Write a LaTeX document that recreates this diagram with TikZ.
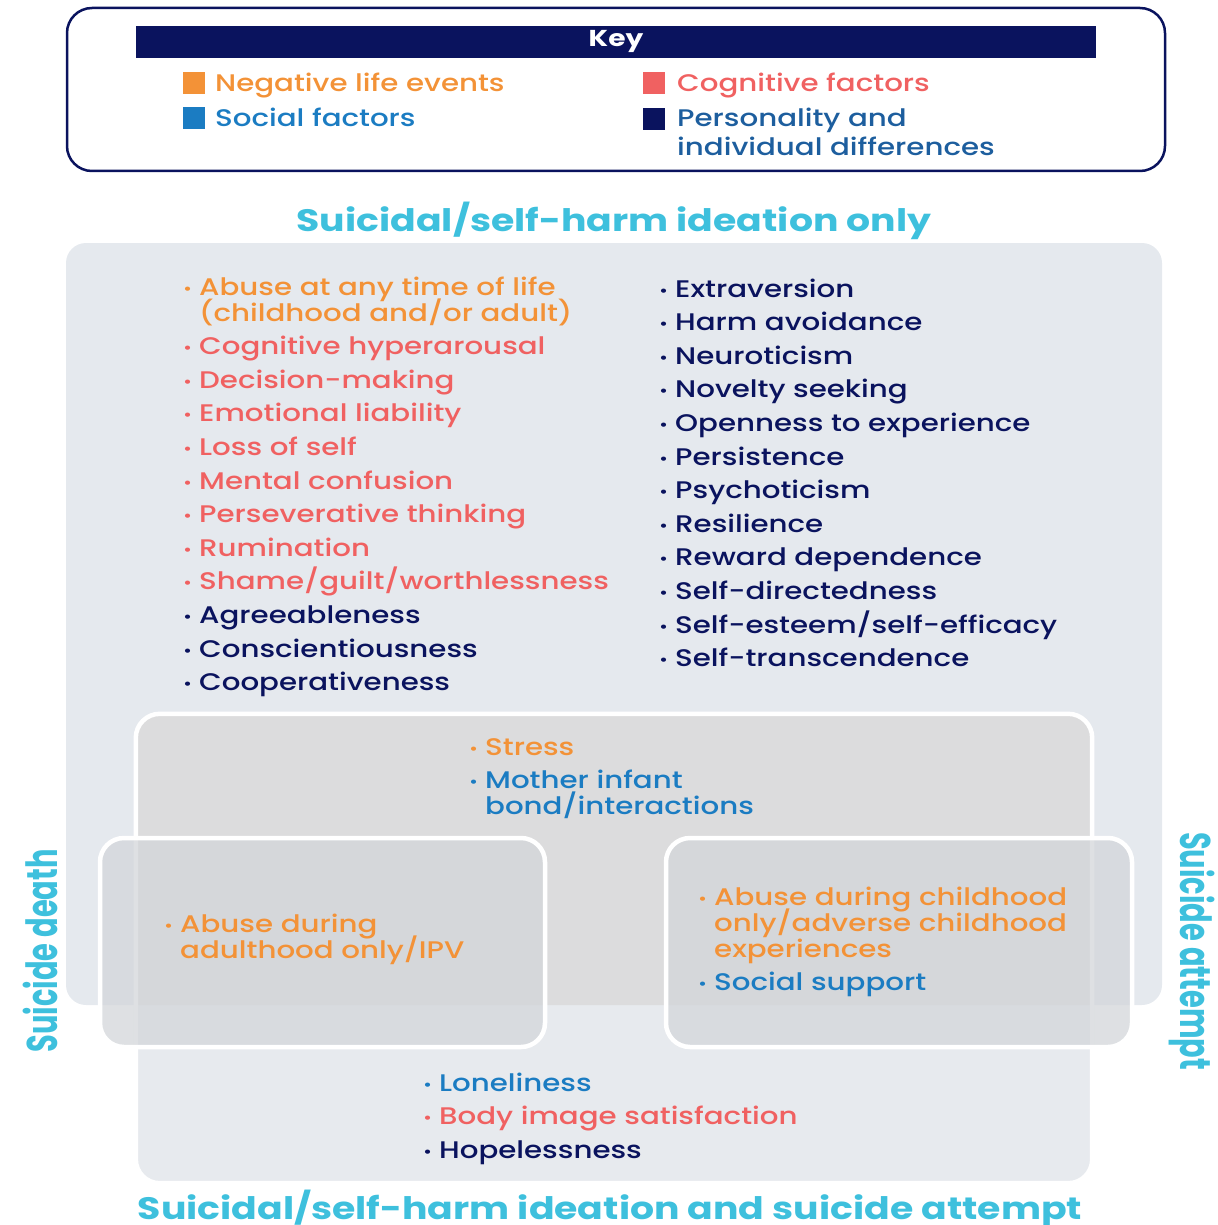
\documentclass[tikz,border=0pt]{standalone}
\usepackage{fontspec}
\setmainfont{Poppins}[UprightFont={* Medium}, BoldFont={* Bold}, FakeStretch=1.22]
\usetikzlibrary{positioning,calc}

\definecolor{keynavy}{HTML}{0A135E}
\definecolor{negorange}{HTML}{F39237}
\definecolor{cogred}{HTML}{F06161}
\definecolor{socblue}{HTML}{1B7CC2}
\definecolor{perblue}{HTML}{1D5E9E}
\definecolor{titlecyan}{HTML}{3EC0DD}
\definecolor{ideabg}{HTML}{E5E9EE}
\definecolor{pairbg}{HTML}{E7EAEE}
\definecolor{pairhi}{HTML}{DCDCDD}
\definecolor{onlybg}{HTML}{D3D6DA}

\newcommand{\dotmark}{\makebox[16pt][l]{\fontsize{16}{16}\selectfont\raisebox{1pt}{•}}}
\newcommand{\itm}[2]{\textcolor{#1}{\smash{\dotmark#2}}}
\newcommand{\cnt}[2]{\textcolor{#1}{\smash{\hspace*{16pt}#2}}}

\begin{document}
\begin{tikzpicture}[x=1pt, y=-1pt,
    key frame/.style={draw=keynavy, line width=2.5pt, rounded corners=25pt, minimum width=1098pt, minimum height=163pt},
    key bar/.style={fill=keynavy, text=white, minimum width=960pt, minimum height=32pt, inner sep=0pt, font=\bfseries\fontsize{23}{26}\selectfont},
    swatch/.style={minimum size=22pt, inner sep=0pt},
    key label/.style={anchor=base west, inner sep=0pt, font=\fontsize{24}{29}\selectfont},
    group box/.style={inner sep=0pt, rounded corners=24pt},
    only box/.style={group box, fill=onlybg, fill opacity=0.75, draw=white, draw opacity=1, line width=4.5pt, minimum height=209pt},
    factor list/.style={anchor=base west, inner sep=0pt, font=\fontsize{24}{26}\selectfont},
    group title/.style={text=titlecyan, inner sep=0pt, font=\bfseries\fontsize{31}{34}\selectfont},
    side title/.style={text=titlecyan, inner sep=0pt, font=\bfseries\fontsize{43}{46}\selectfont}]
    \useasboundingbox (0,0) rectangle (1217,1225);

    % key
    \node[key frame] (key) at (616,89.5) {};
    \node[key bar, below=19pt of key.north] (keybar) {Key};
    \node[swatch, fill=negorange] (negsw) at (194,83.5) {};
    \node[swatch, fill=socblue] (socsw) at (194,118.5) {};
    \node[swatch, fill=cogred] (cogsw) at (653.5,83.5) {};
    \node[swatch, fill=keynavy] (persw) at (653.5,119) {};
    \node[key label, text=negorange] (negtxt) at (215,92) {Negative life events};
    \node[key label, text=socblue] (soctxt) at (215,127) {Social factors};
    \node[key label, text=cogred] (cogtxt) at (677,92) {Cognitive factors};
    \node[key label, text=perblue] (pertxt) at (677,127) {\begin{tabular}[t]{@{}l@{}}Personality and\\ individual differences\end{tabular}};

    % group boxes
    \node[group box, fill=ideabg, rounded corners=20pt, minimum width=1096pt, minimum height=762pt] (ideation) at (614,624) {};
    \node[group box, fill=pairbg, minimum width=956pt, minimum height=469pt] (pair) at (614,948.5) {};
    \begin{scope}
        \clip[rounded corners=20pt] (ideation.south west) rectangle (ideation.north east);
        \fill[pairhi, rounded corners=24pt] (pair.south west) rectangle (pair.north east);
    \end{scope}
    \draw[white, line width=4.5pt, rounded corners=24pt] (pair.south west) rectangle (pair.north east);
    \node[only box, minimum width=445pt] (death) at (322.5,942.5) {};
    \node[only box, minimum width=466pt] (attempt) at (899,942.5) {};

    % titles
    \node[group title, anchor=base] (ideatitle) at (614,231) {Suicidal/self-harm ideation only};
    \node[group title, anchor=base] (pairtitle) at (610,1219) {Suicidal/self-harm ideation and suicide attempt};
    \node[side title, rotate=90] (deathtitle) at (40,951) {\scalebox{0.55}[1]{Suicide death}};
    \node[side title, rotate=-90] (attempttitle) at (1192,951) {\scalebox{0.55}[1]{Suicide attempt}};

    % ideation only
    \node[factor list] (idealeft) at (183,295) {\begin{tabular}[t]{@{}l@{}}
        \itm{negorange}{Abuse at any time of life}\\ \cnt{negorange}{(childhood and/or adult)}\\[7.6pt]
        \itm{cogred}{Cognitive hyperarousal}\\[7.6pt]
        \itm{cogred}{Decision-making}\\[7.6pt]
        \itm{cogred}{Emotional liability}\\[7.6pt]
        \itm{cogred}{Loss of self}\\[7.6pt]
        \itm{cogred}{Mental confusion}\\[7.6pt]
        \itm{cogred}{Perseverative thinking}\\[7.6pt]
        \itm{cogred}{Rumination}\\[7.6pt]
        \itm{cogred}{Shame/guilt/worthlessness}\\[7.6pt]
        \itm{keynavy}{Agreeableness}\\[7.6pt]
        \itm{keynavy}{Conscientiousness}\\[7.6pt]
        \itm{keynavy}{Cooperativeness}
    \end{tabular}};
    \node[factor list] (idearight) at (659,297) {\begin{tabular}[t]{@{}l@{}}
        \itm{keynavy}{Extraversion}\\[7.6pt]
        \itm{keynavy}{Harm avoidance}\\[7.6pt]
        \itm{keynavy}{Neuroticism}\\[7.6pt]
        \itm{keynavy}{Novelty seeking}\\[7.6pt]
        \itm{keynavy}{Openness to experience}\\[7.6pt]
        \itm{keynavy}{Persistence}\\[7.6pt]
        \itm{keynavy}{Psychoticism}\\[7.6pt]
        \itm{keynavy}{Resilience}\\[7.6pt]
        \itm{keynavy}{Reward dependence}\\[7.6pt]
        \itm{keynavy}{Self-directedness}\\[7.6pt]
        \itm{keynavy}{Self-esteem/self-efficacy}\\[7.6pt]
        \itm{keynavy}{Self-transcendence}
    \end{tabular}};

    % shared by all
    \node[factor list] (sharedlist) at (469,755) {\begin{tabular}[t]{@{}l@{}}
        \itm{negorange}{Stress}\\[7.6pt]
        \itm{socblue}{Mother infant}\\ \cnt{socblue}{bond/interactions}
    \end{tabular}};
    \node[factor list] (deathlist) at (164,932) {\begin{tabular}[t]{@{}l@{}}
        \itm{negorange}{Abuse during}\\ \cnt{negorange}{adulthood only/IPV}
    \end{tabular}};
    \node[factor list] (attemptlist) at (698,905) {\begin{tabular}[t]{@{}l@{}}
        \itm{negorange}{Abuse during childhood}\\ \cnt{negorange}{only/adverse childhood}\\ \cnt{negorange}{experiences}\\[7.6pt]
        \itm{socblue}{Social support}
    \end{tabular}};
    \node[factor list] (pairlist) at (423,1091) {\begin{tabular}[t]{@{}l@{}}
        \itm{socblue}{Loneliness}\\[7.6pt]
        \itm{cogred}{Body image satisfaction}\\[7.6pt]
        \itm{keynavy}{Hopelessness}
    \end{tabular}};
\end{tikzpicture}
\end{document}
